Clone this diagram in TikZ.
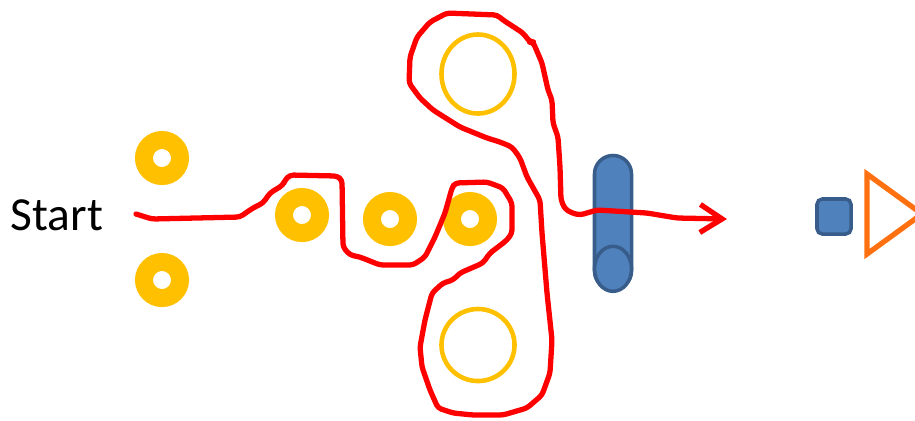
\documentclass[tikz,border=0pt]{standalone}
\usepackage{fontspec}
\setmainfont{Carlito}
\usepackage{xcolor}
\usetikzlibrary{arrows.meta,shapes.geometric,calc}

\definecolor{padyellow}{RGB}{255,192,0}
\definecolor{capblue}{RGB}{79,129,189}
\definecolor{capedge}{RGB}{56,93,138}
\definecolor{triorange}{RGB}{255,112,16}
\definecolor{tracered}{RGB}{255,0,0}

\begin{document}
\begin{tikzpicture}[
      x=0.01cm, y=-0.01cm,
      pad/.style={
        circle, draw=padyellow, line width=0.18cm,
        minimum size=0.36cm, inner sep=0pt,
      },
      bigring/.style={
        ellipse, draw=padyellow, line width=1.3pt,
        minimum width=0.73cm, inner sep=0pt,
      },
      blueshape/.style={draw=capedge, fill=capblue, line width=1pt},
      trace/.style={
        draw=tracered, line width=1.5pt, line join=round, line cap=round,
        rounded corners=1pt,
        -{Straight Barb[length=2.2mm, width=2.8mm]},
      },
    ]

    \clip (0,0) rectangle (915,420);

    % Label on the left
    \node[anchor=base west, font=\fontsize{13.5}{15}\selectfont, inner sep=0pt] (start) at (10,230) {Start};

    % Pins: two on the left, three in a row
    \node[pad] (padTop)   at (162,158) {};
    \node[pad] (padBot)   at (162,280) {};
    \node[pad] (padOne)   at (302,215) {};
    \node[pad] (padTwo)   at (390,219) {};
    \node[pad] (padThree) at (470,219) {};

    % Large rings above and below
    \node[bigring, minimum height=0.79cm] (ringTop) at (478,74)  {};
    \node[bigring, minimum height=0.72cm] (ringBot) at (478,345) {};

    % Blue capsule with its visible end at the bottom
    \node[blueshape, rectangle, rounded corners=0.185cm,
          minimum width=0.37cm, minimum height=1.34cm, inner sep=0pt] (capsule) at (613,222.5) {};
    \draw[blueshape] ($(capsule.south)+(0,-22.5)$) ellipse [x radius=0.185cm, y radius=0.225cm];

    % Square and triangle on the right
    \node[blueshape, rectangle, rounded corners=1.5pt,
          minimum width=0.34cm, minimum height=0.35cm, inner sep=0pt] (square) at (834,216.5) {};
    \draw[draw=triorange, line width=1.5pt, line join=miter] (867,174) -- (922,214) -- (867,254) -- cycle;

    % Hand drawn route
    \coordinate (trStart) at (136,214);
    \coordinate (trEnd)   at (727,219);
    \draw[trace] (trStart) -- (152,219) -- (240,217) -- (247,212) -- (253,208) -- (263,203)
      -- (270,193) -- (283,185) -- (285,180) -- (290,175) -- (337,176) -- (342,180)
      -- (343,247) -- (350,255) -- (360,257) -- (380,265) -- (413,265) -- (425,257)
      -- (435,237) -- (445,213) -- (452,188) -- (455,183) -- (487,182) -- (503,188)
      -- (512,203) -- (512,233) -- (507,240) -- (498,247) -- (490,253) -- (483,263)
      -- (460,273) -- (453,280) -- (443,283) -- (432,293) -- (425,320) -- (420,347)
      -- (422,367) -- (430,390) -- (438,408) -- (453,413) -- (473,415) -- (503,415)
      -- (527,408) -- (542,395) -- (550,373) -- (552,340) -- (547,293) -- (542,233)
      -- (540,200) -- (527,177) -- (520,158) -- (512,147) -- (500,142) -- (487,138)
      -- (460,127) -- (433,110) -- (420,98) -- (409,83) -- (410,57) -- (417,37)
      -- (430,22) -- (447,13) -- (497,15) -- (503,20) -- (523,33) -- (530,42)
      -- (533,42) -- (542,63) -- (548,90) -- (552,100) -- (553,123) -- (558,137)
      -- (560,167) -- (561,200) -- (565,209) -- (572,213) -- (580,215) -- (597,210)
      -- (647,213) -- (677,218) -- (trEnd);

  \end{tikzpicture}
\end{document}
